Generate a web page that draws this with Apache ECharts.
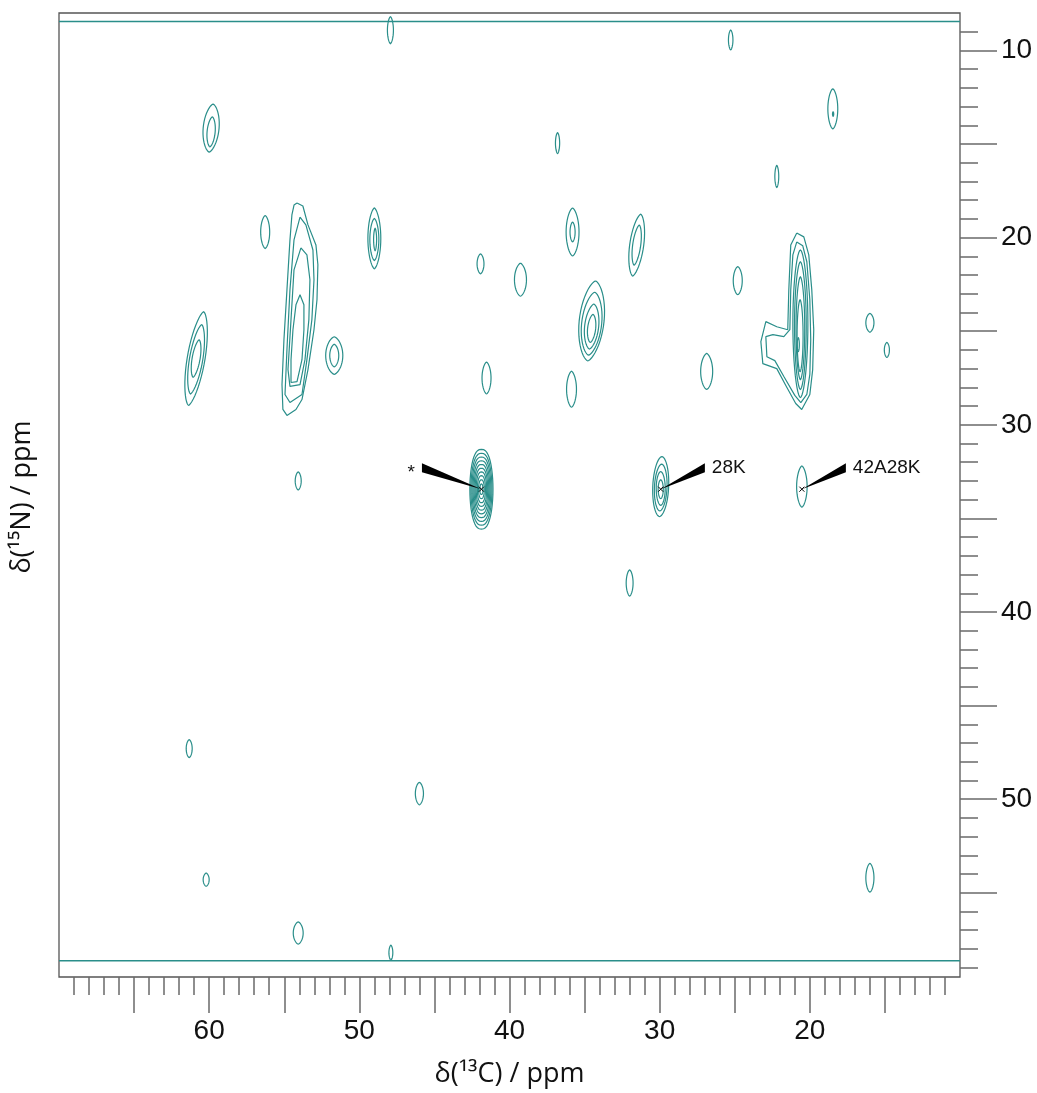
<!DOCTYPE html>
<html><head><meta charset="utf-8">
<script src="https://cdn.jsdelivr.net/npm/echarts@6/dist/echarts.min.js"></script>
<style>html,body{margin:0;padding:0;background:#fff}#c{width:1037px;height:1093px}</style>
</head><body><div id="c"></div>
<script>
// ---------- axis ticks & labels (ppm) ----------
const xMinorTicks = [11,12,13,14,15,16,17,18,19,20,21,22,23,24,25,26,27,28,29,30,31,32,33,34,35,36,37,38,39,40,41,42,43,44,45,46,47,48,49,50,51,52,53,54,55,56,57,58,59,60,61,62,63,64,65,66,67,68,69];
const xMajorTicks = [15,20,25,30,35,40,45,50,55,60,65];
const xTickLabels = [20,30,40,50,60];
const yMinorTicks = [9,10,11,12,13,14,15,16,17,18,19,20,21,22,23,24,25,26,27,28,29,30,31,32,33,34,35,36,37,38,39,40,41,42,43,44,45,46,47,48,49,50,51,52,53,54,55,56,57,58,59];
const yMajorTicks = [10,15,20,25,30,35,40,45,50,55];
const yTickLabels = [10,20,30,40,50];

// ---------- spectrum edges (15N ppm) ----------
const edgeN = [8.46, 58.63];

// ---------- contour rings: [13C ppm, 15N ppm, half-width C, half-height N, shear] ----------
const weakRings = [
  [47.93, 8.92, 0.20, 0.72, 0], [25.27, 9.44, 0.15, 0.53, 0],
  [59.87, 14.15, 0.53, 1.28, 0.10], [59.87, 14.35, 0.27, 0.80, 0.10],
  [18.47, 13.12, 0.33, 1.07, 0], [18.45, 13.40, 0.04, 0.12, 0],
  [36.80, 14.95, 0.14, 0.56, 0], [22.20, 16.73, 0.13, 0.59, 0],
  [56.27, 19.70, 0.30, 0.88, 0],
  [49.00, 20.04, 0.43, 1.62, 0], [49.00, 20.10, 0.30, 1.12, 0], [48.95, 20.10, 0.10, 0.60, 0],
  [51.67, 26.30, 0.57, 1.00, 0], [51.67, 26.30, 0.30, 0.60, 0],
  [60.87, 26.46, 0.60, 2.50, 0.20], [60.87, 26.50, 0.45, 1.85, 0.20], [60.87, 26.46, 0.27, 1.00, 0.20],
  [41.93, 21.40, 0.23, 0.53, 0], [39.27, 22.25, 0.40, 0.88, 0],
  [35.80, 19.70, 0.43, 1.28, 0], [35.80, 19.70, 0.17, 0.53, 0],
  [31.53, 20.40, 0.47, 1.65, 0.16], [31.53, 20.40, 0.27, 1.07, 0.16],
  [24.80, 22.30, 0.30, 0.75, 0],
  [34.53, 24.45, 0.83, 2.13, 0.12], [34.53, 24.60, 0.67, 1.68, 0.12], [34.53, 24.75, 0.47, 1.20, 0.12], [34.53, 24.85, 0.27, 0.75, 0.12],
  [41.53, 27.50, 0.30, 0.85, 0], [35.87, 28.10, 0.33, 0.96, 0], [26.87, 27.15, 0.40, 0.96, 0],
  [16.00, 24.55, 0.27, 0.50, 0], [14.87, 26.00, 0.17, 0.40, 0],
  [54.07, 33.00, 0.20, 0.48, 0], [32.00, 38.45, 0.23, 0.70, 0],
  [61.33, 47.30, 0.20, 0.48, 0], [46.00, 49.70, 0.27, 0.60, 0],
  [60.20, 54.30, 0.20, 0.35, 0], [16.00, 54.20, 0.27, 0.77, 0],
  [54.07, 57.15, 0.33, 0.59, 0], [47.90, 58.20, 0.13, 0.40, 0]
];
const peak21InnerRings = [
  [20.63, 24.60, 0.50, 3.94, 0], [20.63, 24.70, 0.39, 3.41, 0], [20.63, 24.84, 0.29, 2.74, 0],
  [20.65, 25.24, 0.20, 1.92, 0], [20.77, 25.72, 0.07, 0.37, 0]
];
const peak42Rings = [
  [41.87, 33.44, 0.77, 2.13, 0], [41.87, 33.44, 0.70, 1.92, 0], [41.87, 33.44, 0.63, 1.72, 0],
  [41.87, 33.44, 0.56, 1.52, 0], [41.87, 33.44, 0.49, 1.32, 0], [41.87, 33.44, 0.42, 1.12, 0],
  [41.87, 33.44, 0.35, 0.92, 0], [41.87, 33.44, 0.27, 0.72, 0], [41.87, 33.44, 0.19, 0.50, 0],
  [41.87, 33.44, 0.10, 0.28, 0]
];
const peak28KRings = [
  [29.93, 33.30, 0.53, 1.60, 0.05], [29.93, 33.35, 0.42, 1.25, 0.05],
  [29.93, 33.40, 0.30, 0.90, 0], [29.93, 33.44, 0.17, 0.50, 0]
];
const peak42A28KRings = [[20.53, 33.30, 0.35, 1.10, 0]];

// ---------- irregular contour outlines [13C, 15N] ----------
const strip54Rings = [
  [[54.15,18.15],[53.76,18.31],[53.42,19.32],[52.89,20.39],[52.76,21.45],[52.82,23.32],[53.02,24.92],[53.42,27.05],[53.82,28.65],[54.22,29.18],[54.82,29.50],[55.09,29.18],[55.15,27.85],[55.02,25.45],[54.82,22.79],[54.62,20.12],[54.49,18.79],[54.35,18.26]],
  [[53.95,18.90],[53.56,19.32],[53.09,20.66],[53.02,22.25],[53.16,24.38],[53.49,26.52],[53.82,28.38],[54.62,28.81],[54.95,28.38],[54.82,25.98],[54.62,22.79],[54.35,20.12]],
  [[53.89,20.55],[53.49,20.92],[53.29,22.25],[53.36,24.38],[53.62,26.52],[53.95,27.85],[54.62,27.95],[54.75,27.05],[54.55,24.38],[54.35,21.72]],
  [[53.95,23.05],[53.69,23.59],[53.69,24.92],[53.82,26.52],[54.15,27.69],[54.55,27.74],[54.55,26.52],[54.42,24.92],[54.22,23.59]]
];
const shoulder21Rings = [
  [[20.87,19.75],[20.40,19.96],[20.07,20.92],[19.87,22.79],[19.74,24.92],[19.81,27.05],[20.00,28.38],[20.54,29.18],[20.94,28.86],[21.60,27.90],[22.20,27.00],[23.13,26.73],[23.26,25.56],[22.93,24.49],[22.20,24.76],[21.47,24.92],[21.40,22.79],[21.27,20.39]],
  [[20.87,20.23],[20.47,20.44],[20.20,21.29],[20.00,23.32],[19.94,25.45],[20.00,27.31],[20.20,28.38],[20.60,28.81],[21.00,28.43],[21.73,27.42],[22.33,26.57],[22.86,26.36],[22.93,25.29],[22.46,25.18],[21.73,25.29],[21.33,24.92],[21.27,22.79],[21.13,20.92]]
];

// ---------- assignments ----------
const annotLabels = ['*', '28K', '42A28K'];
const annotPeakC = [41.87, 29.93, 20.53];
const annotPeakN = [33.44, 33.44, 33.44];
const annotEndC = [45.83, 26.99, 17.60];
const annotEndN = [32.30, 32.30, 32.30];

// ---------- rendering ----------
const teal = '#2a8e8a';
const chart = echarts.init(document.getElementById('c'), null, {renderer: 'canvas'});

function makeLens(pointiness) {
  return function (params, api) {
    const c = api.value(0), n = api.value(1), rx = api.value(2), ry = api.value(3), sh = api.value(4);
    const pts = [];
    const K = 48;
    for (let k = 0; k < K; k++) {
      const t = 2 * Math.PI * k / K;
      const co = Math.cos(t), s = Math.sin(t);
      const dx = rx * Math.sign(co) * Math.pow(Math.abs(co), pointiness);
      const dy = ry * s;
      pts.push(api.coord([c + dx + sh * dy, n + dy]));
    }
    return {type: 'polygon', shape: {points: pts}, style: {fill: 'none', stroke: teal, lineWidth: 1.2}};
  };
}

function annotItem(params, api) {
  const p = api.coord([api.value(0), api.value(1)]);
  const e = api.coord([api.value(2), api.value(3)]);
  const label = annotLabels[params.dataIndex];
  const left = e[0] < p[0];
  const hw = 4.5;
  return {type: 'group', children: [
    {type: 'polygon', shape: {points: [p, [e[0], e[1] - hw], [e[0], e[1] + hw]]}, style: {fill: '#000'}},
    {type: 'line', shape: {x1: p[0] - 2.5, y1: p[1] - 2.5, x2: p[0] + 2.5, y2: p[1] + 2.5}, style: {stroke: '#000', lineWidth: 1}},
    {type: 'line', shape: {x1: p[0] - 2.5, y1: p[1] + 2.5, x2: p[0] + 2.5, y2: p[1] - 2.5}, style: {stroke: '#000', lineWidth: 1}},
    {type: 'text', x: left ? e[0] - 7 : e[0] + 7, y: e[1] + (label === '*' ? 5 : 0),
     style: {text: label, fill: '#111', font: '19px "Liberation Sans"', align: left ? 'right' : 'left', verticalAlign: 'middle'}}
  ]};
}

const series = [];
edgeN.forEach(n => series.push({type: 'line', data: [[70, n], [10, n]], symbol: 'none', silent: true,
  lineStyle: {color: teal, width: 1.5}}));
[[weakRings, 1.3], [peak21InnerRings, 1.15], [peak42Rings, 0.8], [peak28KRings, 1.1], [peak42A28KRings, 1.3]].forEach(([rings, pt]) =>
  series.push({type: 'custom', data: rings, renderItem: makeLens(pt), clip: true, silent: true}));
strip54Rings.concat(shoulder21Rings).forEach(ring => series.push({type: 'line', data: ring.concat([ring[0]]),
  symbol: 'none', silent: true, lineStyle: {color: teal, width: 1.2}}));
series.push({type: 'custom', silent: true, renderItem: annotItem,
  data: annotLabels.map((l, i) => [annotPeakC[i], annotPeakN[i], annotEndC[i], annotEndN[i]])});

const tickColor = '#6a6a6a';
chart.setOption({
  animation: false,
  backgroundColor: '#fff',
  grid: {left: 59, right: 77, top: 13, bottom: 114, show: true, borderColor: '#555', borderWidth: 1.3},
  xAxis: [
    {type: 'value', min: 10, max: 70, inverse: true, position: 'bottom',
     axisLine: {show: false}, splitLine: {show: false},
     axisTick: {show: true, customValues: xMajorTicks, length: 36, lineStyle: {color: tickColor, width: 1.5}},
     axisLabel: {customValues: xTickLabels, margin: 40, fontSize: 28, color: '#111', fontFamily: 'Liberation Sans'},
     name: 'δ(¹³C) / ppm', nameLocation: 'middle', nameGap: 84,
     nameTextStyle: {fontSize: 27, color: '#111', fontFamily: 'Open Sans'}},
    {type: 'value', min: 10, max: 70, inverse: true, position: 'bottom',
     axisLine: {show: false}, splitLine: {show: false}, axisLabel: {show: false},
     axisTick: {show: true, customValues: xMinorTicks, length: 18, lineStyle: {color: tickColor, width: 1.5}}}
  ],
  yAxis: [
    {type: 'value', min: 8, max: 59.5, inverse: true, position: 'right',
     axisLine: {show: false}, splitLine: {show: false},
     axisTick: {show: true, customValues: yMajorTicks, length: 37, lineStyle: {color: tickColor, width: 1.5}},
     axisLabel: {customValues: yTickLabels, margin: 41, fontSize: 28, color: '#111', fontFamily: 'Liberation Sans'}},
    {type: 'value', min: 8, max: 59.5, inverse: true, position: 'right',
     axisLine: {show: false}, splitLine: {show: false}, axisLabel: {show: false},
     axisTick: {show: true, customValues: yMinorTicks, length: 18, lineStyle: {color: tickColor, width: 1.5}}}
  ],
  graphic: [{type: 'text', x: 22, y: 497, rotation: Math.PI / 2,
    style: {text: 'δ(¹⁵N) / ppm', font: '27px "Open Sans"', fill: '#111', align: 'center', verticalAlign: 'middle'}}],
  series: series
});
</script></body></html>
